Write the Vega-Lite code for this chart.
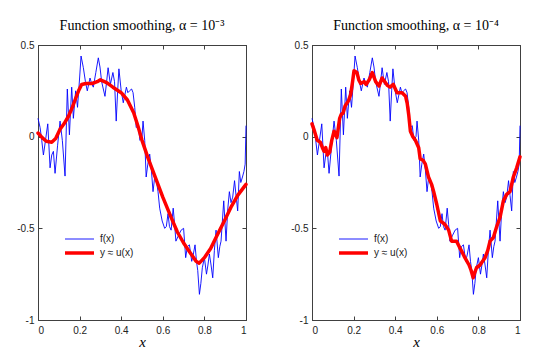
{
  "$schema": "https://vega.github.io/schema/vega-lite/v6.json",
  "background": "white",
  "padding": {"left": 16, "top": 18, "right": 5, "bottom": 5},
  "datasets": {
    "f": [
      {"x":0.000,"y":0.10,"s":"f(x)"},{"x":0.010,"y":0.05,"s":"f(x)"},{"x":0.018,"y":-0.02,"s":"f(x)"},{"x":0.026,"y":-0.10,"s":"f(x)"},
      {"x":0.036,"y":-0.02,"s":"f(x)"},{"x":0.047,"y":0.07,"s":"f(x)"},{"x":0.058,"y":-0.17,"s":"f(x)"},{"x":0.066,"y":-0.10,"s":"f(x)"},
      {"x":0.074,"y":-0.08,"s":"f(x)"},{"x":0.082,"y":-0.20,"s":"f(x)"},{"x":0.094,"y":-0.05,"s":"f(x)"},{"x":0.106,"y":0.085,"s":"f(x)"},
      {"x":0.117,"y":-0.02,"s":"f(x)"},{"x":0.130,"y":-0.215,"s":"f(x)"},{"x":0.141,"y":0.26,"s":"f(x)"},{"x":0.151,"y":0.01,"s":"f(x)"},
      {"x":0.162,"y":0.27,"s":"f(x)"},{"x":0.170,"y":0.10,"s":"f(x)"},{"x":0.181,"y":0.25,"s":"f(x)"},{"x":0.190,"y":0.16,"s":"f(x)"},
      {"x":0.200,"y":0.32,"s":"f(x)"},{"x":0.207,"y":0.44,"s":"f(x)"},{"x":0.218,"y":0.376,"s":"f(x)"},{"x":0.228,"y":0.30,"s":"f(x)"},
      {"x":0.237,"y":0.25,"s":"f(x)"},{"x":0.250,"y":0.32,"s":"f(x)"},{"x":0.258,"y":0.29,"s":"f(x)"},{"x":0.266,"y":0.27,"s":"f(x)"},
      {"x":0.278,"y":0.35,"s":"f(x)"},{"x":0.290,"y":0.43,"s":"f(x)"},{"x":0.298,"y":0.38,"s":"f(x)"},{"x":0.306,"y":0.30,"s":"f(x)"},
      {"x":0.314,"y":0.26,"s":"f(x)"},{"x":0.322,"y":0.22,"s":"f(x)"},{"x":0.330,"y":0.30,"s":"f(x)"},{"x":0.337,"y":0.376,"s":"f(x)"},
      {"x":0.348,"y":0.285,"s":"f(x)"},{"x":0.360,"y":0.35,"s":"f(x)"},{"x":0.368,"y":0.30,"s":"f(x)"},{"x":0.376,"y":0.085,"s":"f(x)"},
      {"x":0.383,"y":0.25,"s":"f(x)"},{"x":0.389,"y":0.37,"s":"f(x)"},{"x":0.400,"y":0.25,"s":"f(x)"},{"x":0.410,"y":0.185,"s":"f(x)"},
      {"x":0.425,"y":0.27,"s":"f(x)"},{"x":0.432,"y":0.24,"s":"f(x)"},{"x":0.440,"y":0.25,"s":"f(x)"},{"x":0.450,"y":0.26,"s":"f(x)"},
      {"x":0.457,"y":0.24,"s":"f(x)"},{"x":0.465,"y":0.16,"s":"f(x)"},{"x":0.472,"y":0.05,"s":"f(x)"},{"x":0.482,"y":0.06,"s":"f(x)"},
      {"x":0.490,"y":-0.02,"s":"f(x)"},{"x":0.500,"y":0.00,"s":"f(x)"},{"x":0.505,"y":0.085,"s":"f(x)"},{"x":0.513,"y":-0.02,"s":"f(x)"},
      {"x":0.520,"y":-0.22,"s":"f(x)"},{"x":0.528,"y":-0.15,"s":"f(x)"},{"x":0.537,"y":-0.095,"s":"f(x)"},{"x":0.545,"y":-0.18,"s":"f(x)"},
      {"x":0.553,"y":-0.30,"s":"f(x)"},{"x":0.561,"y":-0.22,"s":"f(x)"},{"x":0.569,"y":-0.24,"s":"f(x)"},{"x":0.577,"y":-0.30,"s":"f(x)"},
      {"x":0.585,"y":-0.39,"s":"f(x)"},{"x":0.597,"y":-0.46,"s":"f(x)"},{"x":0.609,"y":-0.50,"s":"f(x)"},{"x":0.617,"y":-0.49,"s":"f(x)"},
      {"x":0.625,"y":-0.42,"s":"f(x)"},{"x":0.632,"y":-0.49,"s":"f(x)"},{"x":0.640,"y":-0.51,"s":"f(x)"},{"x":0.650,"y":-0.39,"s":"f(x)"},
      {"x":0.657,"y":-0.48,"s":"f(x)"},{"x":0.663,"y":-0.57,"s":"f(x)"},{"x":0.675,"y":-0.54,"s":"f(x)"},{"x":0.688,"y":-0.51,"s":"f(x)"},
      {"x":0.700,"y":-0.50,"s":"f(x)"},{"x":0.710,"y":-0.66,"s":"f(x)"},{"x":0.718,"y":-0.60,"s":"f(x)"},{"x":0.728,"y":-0.59,"s":"f(x)"},
      {"x":0.739,"y":-0.68,"s":"f(x)"},{"x":0.747,"y":-0.64,"s":"f(x)"},{"x":0.755,"y":-0.59,"s":"f(x)"},{"x":0.762,"y":-0.68,"s":"f(x)"},
      {"x":0.768,"y":-0.73,"s":"f(x)"},{"x":0.776,"y":-0.86,"s":"f(x)"},{"x":0.783,"y":-0.80,"s":"f(x)"},{"x":0.790,"y":-0.715,"s":"f(x)"},
      {"x":0.800,"y":-0.66,"s":"f(x)"},{"x":0.810,"y":-0.75,"s":"f(x)"},{"x":0.817,"y":-0.70,"s":"f(x)"},{"x":0.824,"y":-0.64,"s":"f(x)"},
      {"x":0.832,"y":-0.70,"s":"f(x)"},{"x":0.840,"y":-0.77,"s":"f(x)"},{"x":0.848,"y":-0.62,"s":"f(x)"},{"x":0.856,"y":-0.51,"s":"f(x)"},
      {"x":0.867,"y":-0.66,"s":"f(x)"},{"x":0.874,"y":-0.60,"s":"f(x)"},{"x":0.880,"y":-0.57,"s":"f(x)"},{"x":0.893,"y":-0.35,"s":"f(x)"},
      {"x":0.904,"y":-0.57,"s":"f(x)"},{"x":0.912,"y":-0.40,"s":"f(x)"},{"x":0.920,"y":-0.30,"s":"f(x)"},{"x":0.928,"y":-0.36,"s":"f(x)"},
      {"x":0.936,"y":-0.33,"s":"f(x)"},{"x":0.945,"y":-0.24,"s":"f(x)"},{"x":0.952,"y":-0.32,"s":"f(x)"},{"x":0.960,"y":-0.405,"s":"f(x)"},
      {"x":0.968,"y":-0.19,"s":"f(x)"},{"x":0.975,"y":-0.25,"s":"f(x)"},{"x":0.983,"y":-0.22,"s":"f(x)"},{"x":0.990,"y":-0.19,"s":"f(x)"},
      {"x":0.996,"y":-0.15,"s":"f(x)"},{"x":1.000,"y":0.06,"s":"f(x)"}
    ],
    "u3": [
      {"x":0.000,"y":0.02,"s":"y ≈ u(x)"},{"x":0.020,"y":-0.005,"s":"y ≈ u(x)"},{"x":0.040,"y":-0.025,"s":"y ≈ u(x)"},{"x":0.066,"y":-0.03,"s":"y ≈ u(x)"},
      {"x":0.085,"y":-0.01,"s":"y ≈ u(x)"},{"x":0.106,"y":0.04,"s":"y ≈ u(x)"},{"x":0.125,"y":0.07,"s":"y ≈ u(x)"},{"x":0.146,"y":0.11,"s":"y ≈ u(x)"},
      {"x":0.165,"y":0.16,"s":"y ≈ u(x)"},{"x":0.178,"y":0.20,"s":"y ≈ u(x)"},{"x":0.195,"y":0.25,"s":"y ≈ u(x)"},{"x":0.210,"y":0.285,"s":"y ≈ u(x)"},
      {"x":0.230,"y":0.29,"s":"y ≈ u(x)"},{"x":0.260,"y":0.29,"s":"y ≈ u(x)"},{"x":0.285,"y":0.30,"s":"y ≈ u(x)"},{"x":0.300,"y":0.31,"s":"y ≈ u(x)"},
      {"x":0.330,"y":0.295,"s":"y ≈ u(x)"},{"x":0.360,"y":0.27,"s":"y ≈ u(x)"},{"x":0.400,"y":0.24,"s":"y ≈ u(x)"},{"x":0.430,"y":0.20,"s":"y ≈ u(x)"},
      {"x":0.460,"y":0.13,"s":"y ≈ u(x)"},{"x":0.480,"y":0.06,"s":"y ≈ u(x)"},{"x":0.500,"y":-0.02,"s":"y ≈ u(x)"},{"x":0.530,"y":-0.12,"s":"y ≈ u(x)"},
      {"x":0.560,"y":-0.21,"s":"y ≈ u(x)"},{"x":0.600,"y":-0.33,"s":"y ≈ u(x)"},{"x":0.640,"y":-0.44,"s":"y ≈ u(x)"},{"x":0.670,"y":-0.52,"s":"y ≈ u(x)"},
      {"x":0.700,"y":-0.58,"s":"y ≈ u(x)"},{"x":0.730,"y":-0.63,"s":"y ≈ u(x)"},{"x":0.760,"y":-0.68,"s":"y ≈ u(x)"},{"x":0.775,"y":-0.69,"s":"y ≈ u(x)"},
      {"x":0.800,"y":-0.66,"s":"y ≈ u(x)"},{"x":0.830,"y":-0.61,"s":"y ≈ u(x)"},{"x":0.860,"y":-0.54,"s":"y ≈ u(x)"},{"x":0.900,"y":-0.45,"s":"y ≈ u(x)"},
      {"x":0.930,"y":-0.38,"s":"y ≈ u(x)"},{"x":0.960,"y":-0.32,"s":"y ≈ u(x)"},{"x":1.000,"y":-0.26,"s":"y ≈ u(x)"}
    ],
    "u4": [
      {"x":0.000,"y":0.07,"s":"y ≈ u(x)"},{"x":0.012,"y":0.03,"s":"y ≈ u(x)"},{"x":0.025,"y":-0.02,"s":"y ≈ u(x)"},{"x":0.040,"y":-0.03,"s":"y ≈ u(x)"},
      {"x":0.050,"y":-0.06,"s":"y ≈ u(x)"},{"x":0.058,"y":-0.08,"s":"y ≈ u(x)"},{"x":0.066,"y":-0.06,"s":"y ≈ u(x)"},{"x":0.074,"y":-0.10,"s":"y ≈ u(x)"},
      {"x":0.085,"y":-0.085,"s":"y ≈ u(x)"},{"x":0.095,"y":-0.02,"s":"y ≈ u(x)"},{"x":0.106,"y":0.03,"s":"y ≈ u(x)"},{"x":0.120,"y":-0.005,"s":"y ≈ u(x)"},
      {"x":0.133,"y":0.10,"s":"y ≈ u(x)"},{"x":0.140,"y":0.12,"s":"y ≈ u(x)"},{"x":0.150,"y":0.13,"s":"y ≈ u(x)"},{"x":0.159,"y":0.167,"s":"y ≈ u(x)"},
      {"x":0.175,"y":0.195,"s":"y ≈ u(x)"},{"x":0.186,"y":0.23,"s":"y ≈ u(x)"},{"x":0.195,"y":0.30,"s":"y ≈ u(x)"},{"x":0.202,"y":0.36,"s":"y ≈ u(x)"},
      {"x":0.216,"y":0.35,"s":"y ≈ u(x)"},{"x":0.225,"y":0.31,"s":"y ≈ u(x)"},{"x":0.234,"y":0.29,"s":"y ≈ u(x)"},{"x":0.250,"y":0.30,"s":"y ≈ u(x)"},
      {"x":0.260,"y":0.285,"s":"y ≈ u(x)"},{"x":0.275,"y":0.31,"s":"y ≈ u(x)"},{"x":0.290,"y":0.35,"s":"y ≈ u(x)"},{"x":0.306,"y":0.30,"s":"y ≈ u(x)"},
      {"x":0.322,"y":0.276,"s":"y ≈ u(x)"},{"x":0.337,"y":0.32,"s":"y ≈ u(x)"},{"x":0.350,"y":0.30,"s":"y ≈ u(x)"},{"x":0.362,"y":0.28,"s":"y ≈ u(x)"},
      {"x":0.375,"y":0.27,"s":"y ≈ u(x)"},{"x":0.391,"y":0.285,"s":"y ≈ u(x)"},{"x":0.409,"y":0.24,"s":"y ≈ u(x)"},{"x":0.433,"y":0.24,"s":"y ≈ u(x)"},
      {"x":0.450,"y":0.22,"s":"y ≈ u(x)"},{"x":0.458,"y":0.18,"s":"y ≈ u(x)"},{"x":0.465,"y":0.12,"s":"y ≈ u(x)"},{"x":0.473,"y":0.03,"s":"y ≈ u(x)"},
      {"x":0.485,"y":0.00,"s":"y ≈ u(x)"},{"x":0.497,"y":-0.02,"s":"y ≈ u(x)"},{"x":0.513,"y":-0.06,"s":"y ≈ u(x)"},{"x":0.520,"y":-0.12,"s":"y ≈ u(x)"},
      {"x":0.535,"y":-0.13,"s":"y ≈ u(x)"},{"x":0.545,"y":-0.15,"s":"y ≈ u(x)"},{"x":0.560,"y":-0.22,"s":"y ≈ u(x)"},{"x":0.575,"y":-0.26,"s":"y ≈ u(x)"},
      {"x":0.585,"y":-0.30,"s":"y ≈ u(x)"},{"x":0.600,"y":-0.37,"s":"y ≈ u(x)"},{"x":0.617,"y":-0.46,"s":"y ≈ u(x)"},{"x":0.630,"y":-0.47,"s":"y ≈ u(x)"},
      {"x":0.640,"y":-0.48,"s":"y ≈ u(x)"},{"x":0.657,"y":-0.51,"s":"y ≈ u(x)"},{"x":0.671,"y":-0.57,"s":"y ≈ u(x)"},{"x":0.685,"y":-0.57,"s":"y ≈ u(x)"},
      {"x":0.695,"y":-0.57,"s":"y ≈ u(x)"},{"x":0.710,"y":-0.605,"s":"y ≈ u(x)"},{"x":0.722,"y":-0.63,"s":"y ≈ u(x)"},{"x":0.735,"y":-0.66,"s":"y ≈ u(x)"},
      {"x":0.755,"y":-0.70,"s":"y ≈ u(x)"},{"x":0.765,"y":-0.73,"s":"y ≈ u(x)"},{"x":0.775,"y":-0.77,"s":"y ≈ u(x)"},{"x":0.783,"y":-0.74,"s":"y ≈ u(x)"},
      {"x":0.791,"y":-0.715,"s":"y ≈ u(x)"},{"x":0.808,"y":-0.70,"s":"y ≈ u(x)"},{"x":0.820,"y":-0.68,"s":"y ≈ u(x)"},{"x":0.832,"y":-0.66,"s":"y ≈ u(x)"},
      {"x":0.845,"y":-0.62,"s":"y ≈ u(x)"},{"x":0.856,"y":-0.57,"s":"y ≈ u(x)"},{"x":0.872,"y":-0.55,"s":"y ≈ u(x)"},{"x":0.888,"y":-0.49,"s":"y ≈ u(x)"},
      {"x":0.904,"y":-0.44,"s":"y ≈ u(x)"},{"x":0.920,"y":-0.35,"s":"y ≈ u(x)"},{"x":0.936,"y":-0.315,"s":"y ≈ u(x)"},{"x":0.952,"y":-0.30,"s":"y ≈ u(x)"},
      {"x":0.968,"y":-0.22,"s":"y ≈ u(x)"},{"x":0.984,"y":-0.17,"s":"y ≈ u(x)"},{"x":1.000,"y":-0.11,"s":"y ≈ u(x)"}
    ]
  },
  "hconcat": [
    {
      "width": 208, "height": 275,
      "title": {"text": "Function smoothing, α = 10⁻³"},
      "layer": [
        {
          "data": {"name": "f"},
          "mark": {"type": "line", "strokeJoin": "round"},
          "encoding": {
            "x": {"field": "x", "type": "quantitative", "scale": {"domain": [0, 1], "nice": false},
                  "axis": {"orient": "bottom", "values": [0, 0.2, 0.4, 0.6, 0.8, 1], "labelExpr": "'' + datum.value", "title": "x", "labelPadding": 9}},
            "y": {"field": "y", "type": "quantitative", "scale": {"domain": [-1, 0.5], "nice": false, "zero": false},
                  "axis": {"orient": "left", "values": [-1, -0.5, 0, 0.5], "labelExpr": "'' + datum.value", "title": null, "labelPadding": 8}},
            "color": {"field": "s", "type": "nominal", "scale": {"domain": ["f(x)", "y ≈ u(x)"], "range": ["#0000ff", "#ff0000"]},
                      "legend": {"orient": "none", "legendX": 25, "legendY": 187, "title": null}},
            "strokeWidth": {"field": "s", "type": "nominal", "scale": {"domain": ["f(x)", "y ≈ u(x)"], "range": [0.9, 3.5]},
                      "legend": {"orient": "none", "legendX": 25, "legendY": 187, "title": null}}
          }
        },
        {
          "data": {"name": "u3"},
          "mark": {"type": "line", "strokeJoin": "round", "strokeCap": "round"},
          "encoding": {
            "x": {"field": "x", "type": "quantitative", "axis": {"orient": "top", "values": [0, 0.2, 0.4, 0.6, 0.8, 1], "labels": false, "title": null}},
            "y": {"field": "y", "type": "quantitative", "axis": {"orient": "right", "values": [-1, -0.5, 0, 0.5], "labels": false, "title": null}},
            "color": {"field": "s", "type": "nominal"},
            "strokeWidth": {"field": "s", "type": "nominal"}
          }
        }
      ],
      "resolve": {"axis": {"x": "independent", "y": "independent"}}
    },
    {
      "width": 208, "height": 275,
      "title": {"text": "Function smoothing, α = 10⁻⁴"},
      "layer": [
        {
          "data": {"name": "f"},
          "mark": {"type": "line", "strokeJoin": "round"},
          "encoding": {
            "x": {"field": "x", "type": "quantitative", "scale": {"domain": [0, 1], "nice": false},
                  "axis": {"orient": "bottom", "values": [0, 0.2, 0.4, 0.6, 0.8, 1], "labelExpr": "'' + datum.value", "title": "x", "labelPadding": 9}},
            "y": {"field": "y", "type": "quantitative", "scale": {"domain": [-1, 0.5], "nice": false, "zero": false},
                  "axis": {"orient": "left", "values": [-1, -0.5, 0, 0.5], "labelExpr": "'' + datum.value", "title": null, "labelPadding": 8}},
            "color": {"field": "s", "type": "nominal", "scale": {"domain": ["f(x)", "y ≈ u(x)"], "range": ["#0000ff", "#ff0000"]},
                      "legend": {"orient": "none", "legendX": 25, "legendY": 187, "title": null}},
            "strokeWidth": {"field": "s", "type": "nominal", "scale": {"domain": ["f(x)", "y ≈ u(x)"], "range": [0.9, 3.5]},
                      "legend": {"orient": "none", "legendX": 25, "legendY": 187, "title": null}}
          }
        },
        {
          "data": {"name": "u4"},
          "mark": {"type": "line", "strokeJoin": "round", "strokeCap": "round"},
          "encoding": {
            "x": {"field": "x", "type": "quantitative", "axis": {"orient": "top", "values": [0, 0.2, 0.4, 0.6, 0.8, 1], "labels": false, "title": null}},
            "y": {"field": "y", "type": "quantitative", "axis": {"orient": "right", "values": [-1, -0.5, 0, 0.5], "labels": false, "title": null}},
            "color": {"field": "s", "type": "nominal"},
            "strokeWidth": {"field": "s", "type": "nominal"}
          }
        }
      ],
      "resolve": {"axis": {"x": "independent", "y": "independent"}}
    }
  ],
  "spacing": 66,
  "bounds": "flush",
  "resolve": {"scale": {"color": "independent", "strokeWidth": "independent"}, "legend": {"color": "independent", "strokeWidth": "independent"}},
  "config": {
    "view": {"stroke": "#404040", "strokeWidth": 1},
    "title": {"font": "Liberation Serif", "fontSize": 14, "fontWeight": "normal", "color": "#000", "offset": 7},
    "axis": {
      "grid": false, "domainColor": "#404040", "tickColor": "#404040", "tickSize": -4,
      "labelFont": "Liberation Sans", "labelFontSize": 10, "labelColor": "#222",
      "titleFont": "Liberation Serif", "titleFontStyle": "italic", "titleFontWeight": "normal", "titleFontSize": 15, "titleColor": "#000", "titlePadding": -1
    },
    "legend": {
      "symbolType": "stroke", "symbolSize": 841, "clipHeight": 14, "labelFont": "Liberation Sans", "labelFontSize": 10, "labelColor": "#222",
      "labelOffset": 4, "rowPadding": 0, "padding": 0
    }
  }
}
